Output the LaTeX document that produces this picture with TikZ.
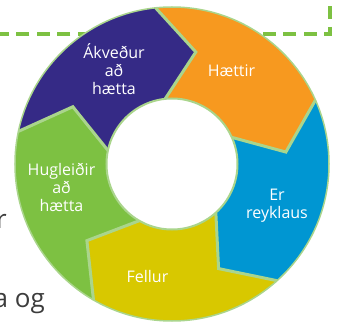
\documentclass[tikz,border=0pt]{standalone}
\usepackage{fontspec}
\setmainfont{Open Sans}
\definecolor{cpurple}{RGB}{53,42,134}
\definecolor{corange}{RGB}{247,153,31}
\definecolor{cblue}{RGB}{0,150,210}
\definecolor{cyellow}{RGB}{216,200,0}
\definecolor{cgreen}{RGB}{125,193,66}
\definecolor{clight}{RGB}{170,213,140}
\definecolor{ctext}{RGB}{60,60,60}
\begin{document}
\begin{tikzpicture}[x=1pt,y=1pt,
  lbl/.style={text=white, font=\fontsize{16}{18}\selectfont, align=center, inner sep=0pt},
  body/.style={text=ctext, font=\fontsize{26}{30}\selectfont, inner sep=0pt},
  sep/.style={draw=clight, line width=3pt, line join=miter}]
\useasboundingbox (-172,-160) rectangle (165,164);
\def\Ro{157}\def\Ri{65.5}\def\Rm{114.5}
\draw[cgreen, line width=4pt, dash pattern=on 13pt off 7.5pt, dash phase=14pt] (158,164) -- (158,130) -- (-172,130);
\foreach \a/\c in {168/cpurple,96/corange,24/cblue,-48/cyellow,-120/cgreen}{
  \pgfmathsetmacro\b{\a-72}
  \fill[\c] (\a:\Ro) arc[start angle=\a, end angle=\b, radius=\Ro] -- ({\b-18}:\Rm) -- (\b:\Ri) arc[start angle=\b, end angle=\a, radius=\Ri] -- ({\a-18}:\Rm) -- cycle;
}
\foreach \a in {168,96,24,-48,-120}{
  \draw[sep] (\a:\Ro) -- ({\a-18}:\Rm) -- (\a:\Ri);
}
\draw[clight, line width=1.5pt] (0,0) circle (\Ro);
\draw[clight, line width=2pt, fill=white] (0,0) circle (\Ri);
\node[lbl] (akv) at (-58,94.5) {Ákveður\\að\\hætta};
\node[lbl] (haet) at (59.5,93) {Hættir};
\node[lbl] (reyk) at (105,-42) {Er\\reyklaus};
\node[lbl] (fell) at (-24.5,-112) {Fellur};
\node[lbl] (hugl) at (-110.5,-23.5) {Hugleiðir\\að\\hætta};
\node[body, anchor=base east] (t1) at (-165,-64) {r};
\node[body, anchor=base east] (t2) at (-127,-143) {a og};
\end{tikzpicture}
\end{document}
